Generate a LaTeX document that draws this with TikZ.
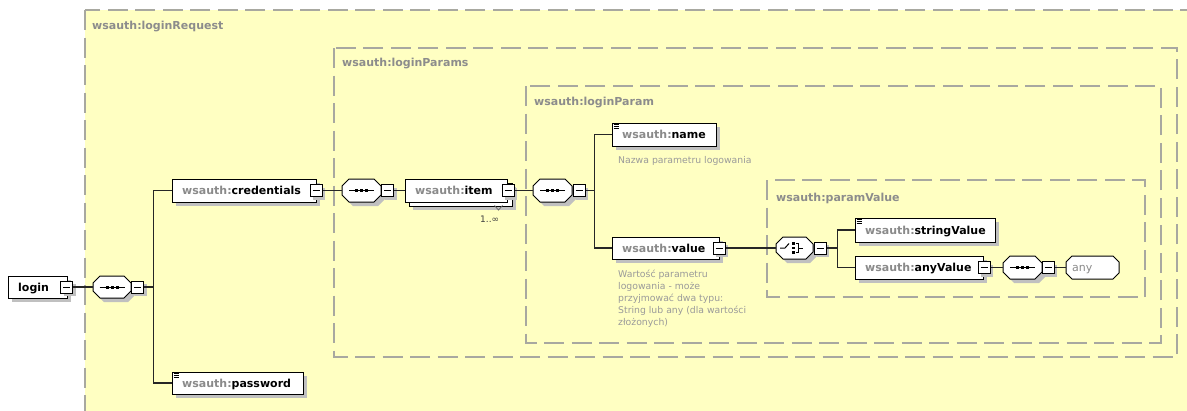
\documentclass[tikz,border=0pt]{standalone}
\usepackage{fontspec}
\setmainfont{DejaVu Sans}
\usetikzlibrary{fit,calc}
\definecolor{bgyellow}{HTML}{FFFFC2}
\definecolor{dashc}{HTML}{A8A8A0}
\definecolor{nsgray}{HTML}{8A8A8A}
\definecolor{docgray}{HTML}{9A9A9A}
\definecolor{shadowc}{HTML}{C0C0C0}
\definecolor{lblgray}{HTML}{8C8C8C}
\tikzset{
  group/.style={draw=dashc, line width=1.3pt, dash pattern=on 20pt off 7.5pt},
  grouplbl/.style={anchor=base west, inner sep=0, font=\fontsize{11}{13}\selectfont\bfseries, text=lblgray},
  boxst/.style={draw=black, fill=white, line width=1pt, inner sep=0},
  shd/.style={fill=shadowc},
  txt/.style={anchor=base west, inner sep=0, font=\fontsize{11}{13}\selectfont\bfseries},
  docst/.style={inner sep=0, font=\fontsize{9.3}{12}\selectfont, text=docgray, align=left},
  conn/.style={draw=black!85, line width=1.2pt},
  minusst/.style={draw=black, fill=white, line width=1pt, minimum size=12pt, inner sep=0},
  symline/.style={line width=1pt, draw=black},
}
\newcommand{\ns}{\textcolor{nsgray}{wsauth:}}
% element box: name, x1, y1, x2, y2, text
\newcommand{\xelem}[6]{%
  \fill[shd] ({#2+4},{#3+4}) rectangle ({#4+4},{#5+4});
  \node[boxst, fit={(#2,#3)(#4,#5)}] (#1) {};
  \node[txt] (#1-t) at ({#2+10},{(#3+#5)/2+4}) {#6};
}
% simple-type icon at top-left corner x1,y1
\newcommand{\xicon}[2]{%
  \draw[line width=0.8pt] ({#1+1.5},{#2+1.8}) -- ({#1+7},{#2+1.8});
  \draw[line width=0.8pt] ({#1+1.5},{#2+3.8}) -- ({#1+7},{#2+3.8});
  \draw[line width=0.8pt] ({#1+1.5},{#2+5.8}) -- ({#1+7},{#2+5.8});
}
% minus button: name, cx, cy
\newcommand{\xminus}[3]{%
  \fill[shd] ({#2-3},{#3-3}) rectangle ({#2+9},{#3+9});
  \node[minusst] (#1) at (#2,#3) {};
  \draw[line width=1pt] ({#2-3.5},#3) -- ({#2+3.5},#3);
}
% octagon: name, x1, y1, x2, y2
\newcommand{\xocta}[5]{%
  \fill[shd, shift={(4,4)}] ({#2+7},#3) -- ({#4-7},#3) -- (#4,{#3+7}) -- (#4,{#5-7}) -- ({#4-7},#5) -- ({#2+7},#5) -- (#2,{#5-7}) -- (#2,{#3+7}) -- cycle;
  \draw[boxst] ({#2+7},#3) -- ({#4-7},#3) -- (#4,{#3+7}) -- (#4,{#5-7}) -- ({#4-7},#5) -- ({#2+7},#5) -- (#2,{#5-7}) -- (#2,{#3+7}) -- cycle;
  \node[fit={(#2,#3)(#4,#5)}, inner sep=0] (#1) {};
}
% sequence symbol at cx, cy
\newcommand{\xseq}[2]{%
  \draw[symline] ({#1-12.5},#2) -- ({#1+12.5},#2);
  \fill ({#1-6.5},{#2-1.5}) rectangle ({#1-3.5},{#2+1.5});
  \fill ({#1-1.5},{#2-1.5}) rectangle ({#1+1.5},{#2+1.5});
  \fill ({#1+3.5},{#2-1.5}) rectangle ({#1+6.5},{#2+1.5});
}
% choice symbol at cx, cy
\newcommand{\xchoice}[2]{%
  \draw[line width=1pt] ({#1-14.5},#2) -- ({#1-9.5},#2) -- ({#1-5.5},{#2-4.5});
  \fill ({#1-2.6},{#2-5.8}) rectangle ({#1+0},{#2-3.2});
  \fill ({#1-2.6},{#2-1.3}) rectangle ({#1+0},{#2+1.3});
  \fill ({#1-2.6},{#2+3.2}) rectangle ({#1+0},{#2+5.8});
  \draw[line width=1pt] ({#1+1.5},{#2-4.5}) -- ({#1+4},{#2-4.5}) -- ({#1+4},{#2+4.5}) -- ({#1+1.5},{#2+4.5});
  \draw[line width=1pt] ({#1+4},#2) -- ({#1+8.5},#2);
}
\begin{document}
\begin{tikzpicture}[x=1pt,y=-1pt]
\useasboundingbox (0,0) rectangle (1187,410);
\clip (0,0) rectangle (1187,410);
\fill[white] (0,0) rectangle (1187,410);
% groups
\draw[group, fill=bgyellow] (85,10) rectangle (1230,440);
\node[grouplbl] (gReq) at (92,29) {wsauth:loginRequest};
\draw[group] (334,48) rectangle (1177,357);
\node[grouplbl] (gParams) at (342,66) {wsauth:loginParams};
\draw[group] (526,86) rectangle (1161,343);
\node[grouplbl] (gParam) at (534,105) {wsauth:loginParam};
\draw[group] (767,180) rectangle (1145,297);
\node[grouplbl] (gVal) at (776,201) {wsauth:paramValue};

% login
\xelem{login}{8}{276}{67}{298}{login}
\xminus{login-m}{66.5}{287}
\xocta{seq1}{93}{276}{131}{298}
\xseq{112}{287}
\xminus{seq1-m}{137.5}{287}

% credentials / password
\xelem{cred}{172}{179}{316}{202}{\ns credentials}
\xminus{cred-m}{316}{190.5}
\xelem{pass}{172}{372}{303}{394}{\ns password}
\xicon{172}{372}

% sequence 2 and item
\xocta{seq2}{342}{179}{381}{202}
\xseq{361.5}{190.5}
\xminus{seq2-m}{387.5}{190.5}
\fill[shd] (413,187) rectangle (516,210);
\node[boxst, fit={(409,183)(512,206)}] (itemback) {};
\node[boxst, fit={(405,179)(507,202)}] (item) {};
\node[txt] (item-t) at (415,194.5) {\ns item};
\xminus{item-m}{508}{190.5}
\draw[line width=0.8pt, draw=black!60] (494.5,205.5) -- (498.5,210) -- (502.5,205.5);
\node[anchor=base west, inner sep=0, font=\fontsize{9}{11}\selectfont, text=black!75] (card) at (480,222) {1..∞};

% sequence 3
\xocta{seq3}{533}{179}{572}{202}
\xseq{552.5}{190.5}
\xminus{seq3-m}{579}{190.5}

% name / value
\xelem{name}{612}{123}{716}{146}{\ns name}
\xicon{612}{123}
\node[docst, anchor=base west] (name-doc) at (618,163) {Nazwa parametru logowania};
\xelem{value}{612}{237}{719}{259}{\ns value}
\xminus{value-m}{719}{248}
\node[docst, anchor=north west] (value-doc) at (618,269.5) {Wartość parametru\\logowania - może\\przyjmować dwa typu:\\String lub any (dla wartości\\złożonych)};

% choice
\xocta{choice}{776}{237}{813}{259}
\xchoice{794.5}{248}
\xminus{choice-m}{820}{248}

% stringValue / anyValue
\xelem{sval}{855}{218}{995}{242}{\ns stringValue}
\xicon{855}{218}
\xelem{aval}{855}{256}{983}{279}{\ns anyValue}
\xminus{aval-m}{984}{267.5}
\xocta{seq4}{1003}{256}{1042}{279}
\xseq{1022.5}{267.5}
\xminus{seq4-m}{1048}{267.5}
\draw[boxst] (1072,256) -- (1113,256) -- (1119,262) -- (1119,273) -- (1113,279) -- (1072,279) -- (1066,273) -- (1066,262) -- cycle;
\node[fit={(1066,256)(1119,279)}, inner sep=0] (any) {};
\node[anchor=base west, inner sep=0, font=\fontsize{11}{13}\selectfont, text=nsgray] (any-t) at (1072,271.5) {any};

% connectors
\coordinate (j1) at (154,287);
\draw[conn] (login-m.east) -- (seq1.west);
\draw[conn] (seq1-m.east) -- (j1);
\draw[conn] (cred.west) -- ++(-18,0) |- (pass.west);
\draw[conn] (cred-m.east) -- (seq2.west);
\draw[conn] (seq2-m.east) -- (item.west);
\draw[conn] (item-m.east) -- (seq3.west);
\coordinate (j3) at (595,190.5);
\draw[conn] (seq3-m.east) -- (j3);
\draw[conn] (name.west) -- ++(-17,0) |- (value.west);
\draw[conn] (value-m.east) -- (choice.west);
\coordinate (j4) at (838,248);
\draw[conn] (choice-m.east) -- (j4);
\draw[conn] (sval.west) -- ++(-17,0) |- (aval.west);
\draw[conn] (aval-m.east) -- (seq4.west);
\draw[conn] (seq4-m.east) -- (any.west);
\end{tikzpicture}
\end{document}
